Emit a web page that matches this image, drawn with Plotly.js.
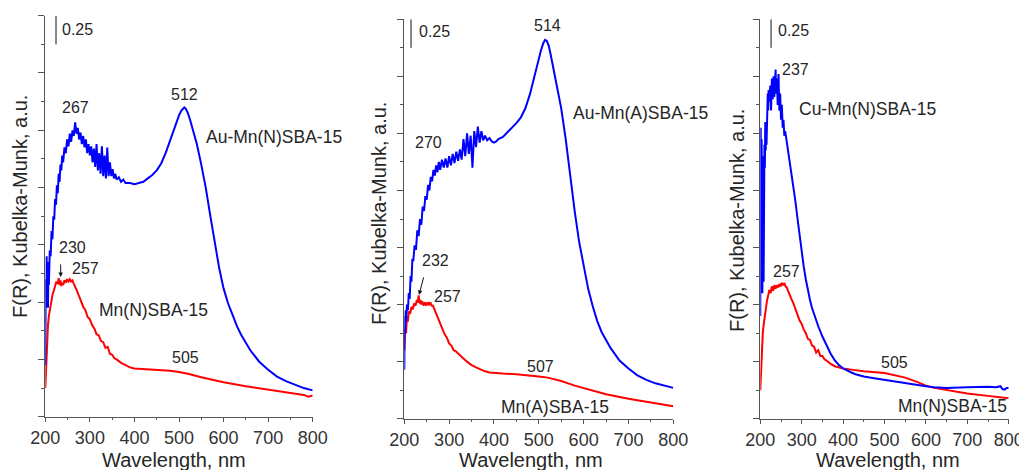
<!DOCTYPE html>
<html>
<head>
<meta charset="utf-8">
<script src="https://cdn.plot.ly/plotly-3.0.1.min.js"></script>
<style>html,body{margin:0;padding:0;background:#fff;}#chart{width:1019px;height:470px;}</style>
</head>
<body>
<div id="chart"></div>
<script>
// ---------- Data ----------
// Panel 1: Au-Mn(N)SBA-15 (blue) and Mn(N)SBA-15 (red)
const auMnN_x = [200,201,202,203,204,205,206,207,208,210,212,214,216,218,220,222,224,226,228,230,232,234,236,238,240,243,246,249,252,255,258,261,264,267,270,273,276,279,282,285,288,291,294,297,300,303,306,309,312,315,318,321,324,327,330,333,336,339,342,345,348,351,354,357,360,365,370,375,380,390,400,410,420,430,440,450,460,470,480,490,500,505,510,512,515,520,525,530,540,550,560,570,580,590,600,610,620,630,640,650,660,680,700,720,740,760,780,800];
const auMnN_y = [0.45,1.20,0.95,1.40,1.05,1.35,0.95,1.30,1.15,1.45,1.40,1.62,1.55,1.75,1.72,1.90,1.85,2.02,1.95,2.12,2.05,2.20,2.15,2.28,2.22,2.35,2.30,2.42,2.36,2.47,2.40,2.50,2.45,2.57,2.47,2.52,2.42,2.48,2.38,2.45,2.35,2.42,2.30,2.38,2.28,2.36,2.22,2.34,2.18,2.38,2.15,2.30,2.12,2.36,2.10,2.28,2.08,2.35,2.10,2.22,2.10,2.16,2.08,2.12,2.07,2.09,2.05,2.07,2.04,2.04,2.03,2.04,2.05,2.08,2.11,2.15,2.21,2.30,2.41,2.53,2.63,2.67,2.69,2.70,2.69,2.65,2.59,2.52,2.38,2.20,2.00,1.76,1.52,1.30,1.12,0.99,0.89,0.79,0.71,0.64,0.58,0.48,0.41,0.35,0.31,0.28,0.25,0.23];
const mnN1_x = [200,202,204,206,208,210,213,216,219,222,225,228,230,232,234,236,238,240,243,246,249,252,255,258,261,264,267,270,275,280,285,290,295,300,305,310,315,320,325,330,335,340,345,350,355,360,370,380,390,400,420,450,480,500,520,550,580,600,650,700,750,780,790,800];
const mnN1_y = [0.25,0.50,0.68,0.80,0.88,0.93,1.00,1.06,1.10,1.14,1.18,1.16,1.21,1.15,1.19,1.14,1.17,1.15,1.19,1.17,1.20,1.18,1.20,1.18,1.19,1.16,1.14,1.11,1.06,1.01,0.96,0.93,0.87,0.85,0.80,0.77,0.72,0.71,0.66,0.65,0.60,0.61,0.55,0.54,0.51,0.50,0.47,0.45,0.43,0.42,0.415,0.41,0.40,0.39,0.375,0.345,0.32,0.30,0.265,0.235,0.205,0.19,0.175,0.185];

// Panel 2: Au-Mn(A)SBA-15 (blue) and Mn(A)SBA-15 (red)
const auMnA_x = [200,201,202,203,204,206,208,210,212,214,216,218,220,223,226,229,232,235,238,241,244,247,250,253,256,259,262,265,268,271,274,277,280,284,288,292,296,300,304,308,312,316,320,324,328,332,336,340,344,348,352,356,360,364,368,372,376,380,385,390,395,400,405,410,420,430,440,450,460,470,480,490,500,505,510,514,518,522,526,530,540,550,560,570,580,590,600,610,620,630,640,660,680,700,720,740,760,780,800];
const auMnA_y = [0.43,0.90,0.75,0.95,0.85,1.00,0.95,1.10,1.05,1.25,1.20,1.40,1.38,1.52,1.48,1.65,1.60,1.75,1.70,1.86,1.82,1.95,1.92,2.05,2.00,2.12,2.08,2.18,2.13,2.22,2.16,2.25,2.18,2.27,2.20,2.28,2.20,2.30,2.22,2.32,2.24,2.34,2.26,2.36,2.27,2.45,2.30,2.50,2.32,2.48,2.20,2.52,2.38,2.56,2.42,2.52,2.44,2.48,2.44,2.46,2.43,2.42,2.43,2.45,2.47,2.51,2.55,2.59,2.64,2.72,2.84,3.00,3.15,3.23,3.29,3.32,3.31,3.27,3.20,3.12,2.95,2.72,2.45,2.12,1.82,1.55,1.33,1.14,0.99,0.86,0.76,0.62,0.51,0.44,0.38,0.34,0.31,0.29,0.27];
const mnA_x = [200,202,204,206,208,210,213,216,219,222,225,228,230,232,234,236,238,240,243,246,249,252,255,258,261,264,267,270,275,280,285,290,295,300,305,310,315,320,325,330,340,350,360,370,380,390,400,420,450,480,500,520,550,580,600,620,650,700,750,800];
const mnA_y = [0.60,0.80,0.75,0.90,0.85,0.94,0.92,0.98,0.96,1.01,0.99,1.04,1.02,1.08,1.01,1.04,1.00,1.03,0.99,1.02,0.99,1.02,1.00,1.02,0.99,0.99,0.96,0.93,0.89,0.83,0.79,0.74,0.71,0.66,0.64,0.60,0.59,0.57,0.55,0.535,0.50,0.47,0.45,0.43,0.415,0.405,0.40,0.395,0.39,0.38,0.37,0.36,0.33,0.29,0.27,0.245,0.215,0.175,0.145,0.11];

// Panel 3: Cu-Mn(N)SBA-15 (blue) and Mn(N)SBA-15 (red)
const cuMnN_x = [200,201,202,203,204,205,206,207,208,209,210,211,212,213,214,215,216,217,218,219,220,222,224,226,228,230,232,234,236,237,238,240,242,244,246,248,250,252,254,256,258,260,265,270,275,280,285,290,295,300,305,310,315,320,325,330,340,350,360,370,380,390,400,410,420,430,450,475,500,550,600,620,650,700,750,770,780,785,790,795,800];
const cuMnN_y = [0.90,2.55,1.60,2.45,2.15,1.10,1.95,2.30,1.20,2.05,2.40,2.20,2.60,2.35,2.55,2.40,2.75,2.55,2.85,2.70,2.88,2.78,2.92,2.70,2.98,2.80,3.00,2.82,3.03,3.06,2.85,2.98,2.75,3.02,2.70,2.85,2.62,2.75,2.55,2.62,2.48,2.52,2.40,2.28,2.18,2.04,1.90,1.75,1.60,1.46,1.33,1.22,1.12,1.04,0.97,0.91,0.81,0.72,0.64,0.57,0.51,0.47,0.44,0.42,0.405,0.39,0.37,0.355,0.34,0.31,0.285,0.275,0.27,0.275,0.28,0.275,0.285,0.26,0.255,0.27,0.27];
const mnN3_x = [200,202,204,206,208,210,213,216,219,222,225,228,231,234,237,240,243,246,249,252,255,258,261,264,267,270,275,280,285,290,295,300,305,310,315,320,325,330,335,340,345,350,355,360,370,380,390,400,420,450,500,550,580,600,620,650,700,750,800];
const mnN3_y = [0.25,0.45,0.62,0.75,0.82,0.88,0.96,1.03,1.08,1.13,1.10,1.16,1.12,1.17,1.14,1.17,1.15,1.18,1.16,1.19,1.17,1.19,1.16,1.15,1.12,1.09,1.05,1.01,0.96,0.92,0.86,0.83,0.78,0.75,0.70,0.69,0.64,0.63,0.58,0.60,0.55,0.55,0.52,0.51,0.48,0.46,0.45,0.44,0.43,0.415,0.40,0.36,0.32,0.29,0.27,0.25,0.22,0.20,0.18];

// Axis ticks and scale bar
const xTickVals = [200,300,400,500,600,700,800];
const xTickText = ['200','300','400','500','600','700','800'];
const scaleBarY = [3.25, 3.5];
const scaleBarLabel = '0.25';

const BLUE = '#0000ff', RED = '#ff0000';
const FONT = '"Liberation Sans", Arial, sans-serif';
const AXC = '#555555';
const TXT = '#262626';

function line(x, y, color, xa, ya, name) {
  return {x: x, y: y, type: 'scatter', mode: 'lines', name: name, xaxis: xa, yaxis: ya,
          line: {color: color, width: 2}, hoverinfo: 'skip', showlegend: false};
}

const traces = [
  line(mnN1_x, mnN1_y, RED, 'x', 'y', 'Mn(N)SBA-15'),
  line(auMnN_x, auMnN_y, BLUE, 'x', 'y', 'Au-Mn(N)SBA-15'),
  line(mnA_x, mnA_y, RED, 'x2', 'y2', 'Mn(A)SBA-15'),
  line(auMnA_x, auMnA_y, BLUE, 'x2', 'y2', 'Au-Mn(A)SBA-15'),
  line(mnN3_x, mnN3_y, RED, 'x3', 'y3', 'Mn(N)SBA-15'),
  line(cuMnN_x, cuMnN_y, BLUE, 'x3', 'y3', 'Cu-Mn(N)SBA-15')
];

function xAxis(domain, anchor) {
  return {domain: domain, anchor: anchor, range: [200, 800], tickvals: xTickVals, ticktext: xTickText,
          ticks: 'outside', ticklen: 4, tickwidth: 1, tickcolor: AXC,
          minor: {dtick: 50, tick0: 0, ticks: 'outside', ticklen: 2, tickcolor: AXC},
          showline: true, linecolor: AXC, linewidth: 1.5, showgrid: false, zeroline: false,
          ticklabeloverflow: 'allow',
          tickfont: {family: FONT, size: 18, color: '#333333'}, fixedrange: true};
}
function yAxis(domain, anchor) {
  return {domain: domain, anchor: anchor, range: [0, 3.5], tick0: 0, dtick: 0.5,
          ticks: 'outside', ticklen: 6, tickwidth: 1, tickcolor: AXC,
          minor: {dtick: 0.25, tick0: 0, ticks: 'outside', ticklen: 3, tickcolor: AXC},
          showticklabels: false, showline: true, linecolor: AXC, linewidth: 1.5,
          showgrid: false, zeroline: false, fixedrange: true};
}

function ann(text, x, y, xref, yref, xanchor, size) {
  return {text: text, x: x, y: y, xref: xref, yref: yref, xanchor: xanchor || 'center', yanchor: 'middle',
          showarrow: false, font: {family: FONT, size: size || 16, color: TXT}};
}
function arrow(x, y, xref, yref, ax, ay) {
  return {text: '', x: x, y: y, xref: xref, yref: yref, showarrow: true, ax: ax, ay: ay,
          arrowhead: 2, arrowsize: 0.9, arrowwidth: 1, arrowcolor: '#111111'};
}
function ytitle(xpx, ypx) {
  return {text: 'F(R), Kubelka-Munk, a.u.', x: xpx / 1019, y: 1 - ypx / 470, xref: 'paper', yref: 'paper',
          textangle: -90, showarrow: false, xanchor: 'center', yanchor: 'middle',
          font: {family: FONT, size: 20, color: TXT}};
}
function xtitle(xpx, ypx) {
  return {text: 'Wavelength, nm', x: xpx / 1019, y: 1 - ypx / 470, xref: 'paper', yref: 'paper',
          showarrow: false, xanchor: 'center', yanchor: 'middle',
          font: {family: FONT, size: 20, color: TXT}};
}

const NAME = 17.5;
const annotations = [
  // Panel 1
  ann(scaleBarLabel, 233, 3.38, 'x', 'y', 'left', 16),
  ann('267', 267, 2.70, 'x', 'y'),
  ann('512', 512, 2.81, 'x', 'y'),
  ann('Au-Mn(N)SBA-15', 556, 2.44, 'x', 'y', 'left', NAME),
  ann('230', 261, 1.48, 'x', 'y'),
  arrow(234.5, 1.22, 'x', 'y', 0, -14),
  ann('257', 291, 1.29, 'x', 'y'),
  ann('Mn(N)SBA-15', 315, 0.93, 'x', 'y', 'left', NAME),
  ann('505', 515, 0.515, 'x', 'y'),
  // Panel 2
  ann(scaleBarLabel, 228, 3.39, 'x2', 'y2', 'left', 16),
  ann('514', 519, 3.45, 'x2', 'y2'),
  ann('Au-Mn(A)SBA-15', 571, 2.68, 'x2', 'y2', 'left', NAME),
  ann('270', 253.5, 2.42, 'x2', 'y2'),
  ann('232', 269, 1.39, 'x2', 'y2'),
  arrow(232.8, 1.085, 'x2', 'y2', 5, -19),
  ann('257', 296, 1.07, 'x2', 'y2'),
  ann('507', 503, 0.456, 'x2', 'y2'),
  ann('Mn(A)SBA-15', 412, 0.10, 'x2', 'y2', 'left', NAME),
  // Panel 3
  ann(scaleBarLabel, 238, 3.40, 'x3', 'y3', 'left', 16),
  ann('237', 285.5, 3.06, 'x3', 'y3'),
  ann('Cu-Mn(N)SBA-15', 288, 2.71, 'x3', 'y3', 'left', NAME),
  ann('257', 263.7, 1.29, 'x3', 'y3'),
  ann('505', 525, 0.49, 'x3', 'y3'),
  ann('Mn(N)SBA-15', 800, 0.11, 'x3', 'y3', 'right', NAME),
  // Axis titles
  ytitle(20, 207), ytitle(379, 214), ytitle(737, 221),
  xtitle(174, 460), xtitle(531, 460), xtitle(888, 460)
];

function bar(x, xref, yref) {
  return {type: 'line', xref: xref, yref: yref, x0: x, x1: x, y0: scaleBarY[0], y1: scaleBarY[1],
          line: {color: '#111111', width: 1}};
}

const layout = {
  width: 1019, height: 470,
  margin: {l: 0, r: 0, t: 0, b: 0, pad: 0},
  paper_bgcolor: '#ffffff', plot_bgcolor: '#ffffff',
  showlegend: false,
  font: {family: FONT},
  xaxis: xAxis([45.3 / 1019, 312.7 / 1019], 'y'),
  yaxis: yAxis([1 - 416.7 / 470, 1 - 15.7 / 470], 'x'),
  xaxis2: xAxis([404.3 / 1019, 673.3 / 1019], 'y2'),
  yaxis2: yAxis([1 - 418.7 / 470, 1 - 19.3 / 470], 'x2'),
  xaxis3: xAxis([760.3 / 1019, 1008.7 / 1019], 'y3'),
  yaxis3: yAxis([1 - 418.7 / 470, 1 - 19.3 / 470], 'x3'),
  annotations: annotations,
  shapes: [bar(224, 'x', 'y'), bar(215, 'x2', 'y2'), bar(226, 'x3', 'y3')]
};

Plotly.newPlot('chart', traces, layout, {staticPlot: true, displayModeBar: false});
</script>
</body>
</html>
